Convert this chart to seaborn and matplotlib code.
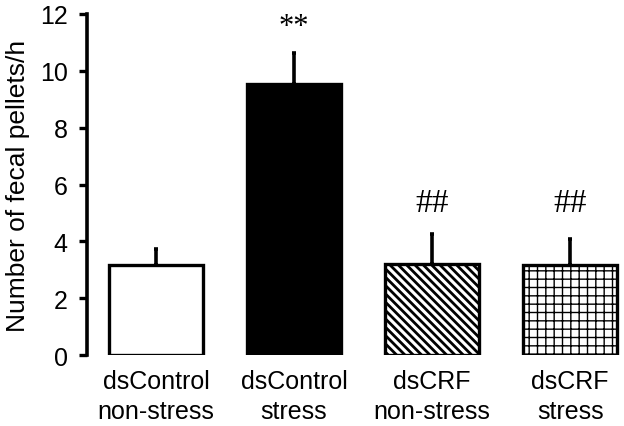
import matplotlib
matplotlib.use("Agg")
import matplotlib.pyplot as plt
import seaborn as sns
import pandas as pd

categories = ["dsControl\nnon-stress", "dsControl\nstress", "dsCRF\nnon-stress", "dsCRF\nstress"]
means = [3.17, 9.55, 3.2, 3.18]
errors = [0.56, 1.07, 1.06, 0.90]
marks = ["", "**", "##", "##"]
mark_y = [None, 11.55, 5.35, 5.35]
mark_size = [0, 22, 24, 24]
yticks = [0, 2, 4, 6, 8, 10, 12]

sns.set_theme(style="white")
plt.rcParams['font.family'] = ['Liberation Sans', 'DejaVu Sans']
plt.rcParams['text.color'] = 'black'
plt.rcParams['axes.labelcolor'] = 'black'
plt.rcParams['xtick.color'] = 'black'
plt.rcParams['ytick.color'] = 'black'
plt.rcParams['hatch.linewidth'] = 1.6

df = pd.DataFrame({"group": categories, "value": means})

fig = plt.figure(figsize=(6.24, 4.27), dpi=100)
ax = fig.add_axes([87/624, 1-356/427, 1-87/624, (356-15)/427])

sns.barplot(data=df, x="group", y="value", order=categories, ax=ax,
            width=0.68, errorbar=None, color="white", saturation=1)

fills = ["white", "black", "white", "white"]
hatches = [None, None, "\\\\\\\\", "++"]
hlw = [1.0, 1.0, 2.0, 1.0]
for p, fc, h, lw in zip(ax.patches, fills, hatches, hlw):
    p.set_facecolor(fc)
    p.set_edgecolor("black")
    p.set_linewidth(2.4)
    if h:
        p.set_hatch(h)
        try:
            p.set_hatch_linewidth(lw)
        except Exception:
            pass

xs = list(range(len(categories)))
ax.errorbar(xs, means, yerr=[[0]*len(errors), errors], fmt="none",
            ecolor="black", elinewidth=2.6, capsize=1.5, capthick=2.6, zorder=1)

for x, m, y, fs in zip(xs, marks, mark_y, mark_size):
    if m:
        ax.text(x, y, m, ha="center", va="center", fontsize=fs,
                family=["Liberation Serif", "DejaVu Serif"], color="black")

ax.set_xlim(-0.5, 3.39)
ax.set_ylim(0, 12)
ax.set_yticks(yticks)
ax.set_yticklabels([str(t) for t in yticks], fontsize=18)
ax.tick_params(axis="y", direction="out", length=6, width=2.4, color="black", left=True, pad=8)
ax.tick_params(axis="x", length=0, labelsize=18, pad=10)
ax.set_xticks(xs)
ax.set_xticklabels(categories, fontsize=18, linespacing=1.3)
ax.set_xlabel("")
ax.set_ylabel("Number of fecal pellets/h", fontsize=19, labelpad=7)

for s in ["top", "right", "bottom"]:
    ax.spines[s].set_visible(False)
ax.spines["left"].set_linewidth(2.6)
ax.spines["left"].set_color("black")
ax.patch.set_alpha(0)

fig.savefig("out.png", dpi=100)
